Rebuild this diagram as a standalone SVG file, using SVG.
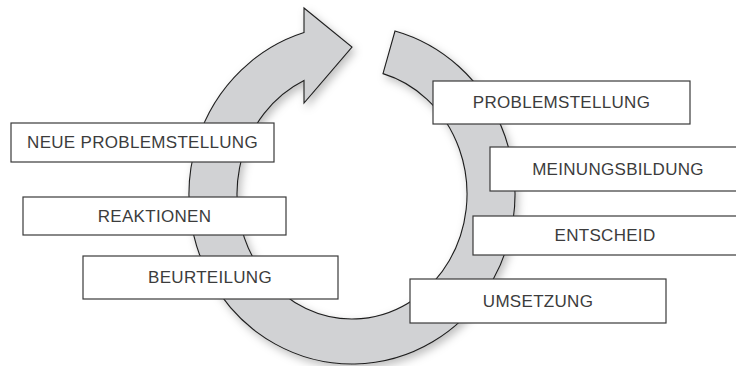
<svg xmlns="http://www.w3.org/2000/svg" width="736" height="366" viewBox="0 0 736 366">
  <style>
    .box { fill: #ffffff; stroke: #3a3a3a; stroke-width: 1.2; }
    .lbl { font-family: "Liberation Sans", Arial, sans-serif; font-size: 17px; fill: #3c3c3c; text-anchor: middle; letter-spacing: 0.3px; }
    .ring { fill: #d1d2d4; stroke: #1e1e1e; stroke-width: 1.1; stroke-linejoin: miter; }
  </style>
  <defs>
    <filter id="shadow" x="-20%" y="-20%" width="140%" height="140%">
      <feDropShadow dx="3" dy="4" stdDeviation="4" flood-color="#000000" flood-opacity="0.25"/>
    </filter>
  </defs>
  <rect width="736" height="366" fill="#ffffff"/>
  <g id="connectors">
    <path class="ring" filter="url(#shadow)" d="M 304 32.5 A 163 169.5 0 1 0 395 31 L 383 73.6 A 115 125 0 1 1 304 80.4 L 304 103 L 352 47 L 304 8 Z"/>
  </g>
  <g id="node-problemstellung">
    <rect class="box" x="433" y="81" width="257" height="43"/>
    <text class="lbl" x="561.5" y="108">PROBLEMSTELLUNG</text>
  </g>
  <g id="node-meinungsbildung">
    <rect class="box" x="490" y="147" width="256" height="44"/>
    <text class="lbl" x="618" y="175">MEINUNGSBILDUNG</text>
  </g>
  <g id="node-entscheid">
    <rect class="box" x="473" y="216" width="270" height="39"/>
    <text class="lbl" x="605" y="241">ENTSCHEID</text>
  </g>
  <g id="node-umsetzung">
    <rect class="box" x="410" y="279" width="256" height="44"/>
    <text class="lbl" x="538" y="307">UMSETZUNG</text>
  </g>
  <g id="node-beurteilung">
    <rect class="box" x="83" y="256" width="255" height="43"/>
    <text class="lbl" x="210" y="283">BEURTEILUNG</text>
  </g>
  <g id="node-reaktionen">
    <rect class="box" x="23" y="197" width="263" height="38"/>
    <text class="lbl" x="154.5" y="222">REAKTIONEN</text>
  </g>
  <g id="node-neue-problemstellung">
    <rect class="box" x="11" y="123" width="263" height="39"/>
    <text class="lbl" x="142.5" y="148">NEUE PROBLEMSTELLUNG</text>
  </g>
</svg>
